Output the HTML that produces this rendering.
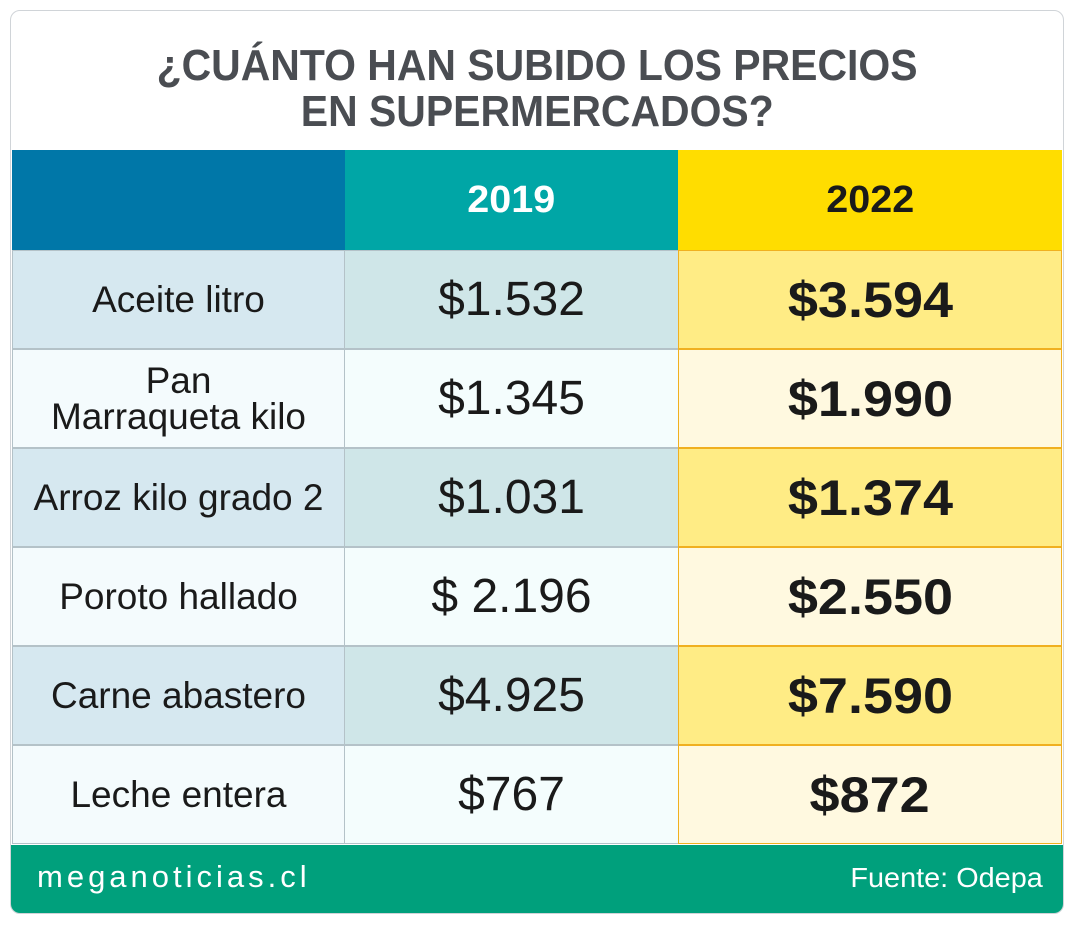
<!DOCTYPE html>
<html><head><meta charset="utf-8"><style>
body{margin:0;width:1080px;height:932px;background:#fff;font-family:"Liberation Sans",sans-serif;overflow:hidden}
.card{position:absolute;left:10px;top:10px;width:1052px;height:902px;border:1.5px solid #d0d4d8;border-radius:10px;overflow:hidden;background:#fff}
.t{position:absolute;left:0;width:1052px;text-align:center;font-weight:bold;color:#4a4d52;font-size:44px;line-height:44px}
.t span{display:inline-block;transform:scaleX(0.93)}
.c{position:absolute;display:flex;align-items:center;justify-content:center;box-sizing:border-box;text-align:center;color:#1a1a1a}
.c span{display:inline-block}
.n{font-size:37px;line-height:36px}
.v{font-size:48px}
.b{font-size:50px;font-weight:bold}
.b span{transform:scaleX(1.08)}
.h span{transform:scaleX(1.04)}
.foot{position:absolute;left:0;top:834px;width:1052px;height:68px;background:#00a07c;color:#fff}
</style></head><body>
<div class="card">
<div class="t" style="top:33px"><span>¿CUÁNTO HAN SUBIDO LOS PRECIOS</span></div>
<div class="t" style="top:79px"><span>EN SUPERMERCADOS?</span></div>

<div class="c" style="left:1px;top:139px;width:333px;height:100px;background:#0077a8"></div>
<div class="c h" style="left:334px;top:139px;width:333px;height:100px;background:#00a6a6;color:#fff;font-size:38px;font-weight:bold"><span>2019</span></div>
<div class="c h" style="left:667px;top:139px;width:384px;height:100px;background:#ffdd00;font-size:38px;font-weight:bold"><span>2022</span></div>

<div id="rows"></div>
<div class="foot">
<div style="position:absolute;left:26px;top:14px;font-size:31px;letter-spacing:4px">meganoticias.cl</div>
<div style="position:absolute;right:20px;top:17px;font-size:28px"><span style="display:inline-block;transform:scaleX(1.03);transform-origin:right">Fuente: Odepa</span></div>
</div>
</div>
<script>
var d=[["Aceite litro","$1.532","$3.594"],["Pan<br>Marraqueta kilo","$1.345","$1.990"],["Arroz kilo grado 2","$1.031","$1.374"],["Poroto hallado","$ 2.196","$2.550"],["Carne abastero","$4.925","$7.590"],["Leche entera","$767","$872"]];
var h="";
for(var i=0;i<6;i++){var y=239+i*99,o=i%2==0;
h+='<div class="c n" style="left:1px;top:'+y+'px;width:333px;height:99px;background:'+(o?'#d6e8f0':'#f4fbfd')+';border:1px solid #b4c2c8"><span>'+d[i][0]+'</span></div>';
h+='<div class="c v" style="left:333px;top:'+y+'px;width:335px;height:99px;background:'+(o?'#cfe6e8':'#f4fdfd')+';border:1px solid #b4c2c8"><span>'+d[i][1]+'</span></div>';
h+='<div class="c b" style="left:667px;top:'+y+'px;width:384px;height:99px;background:'+(o?'#ffec85':'#fff9e0')+';border:1.5px solid #f0b020"><span>'+d[i][2]+'</span></div>';}
document.getElementById("rows").innerHTML=h;
</script>
</body></html>
